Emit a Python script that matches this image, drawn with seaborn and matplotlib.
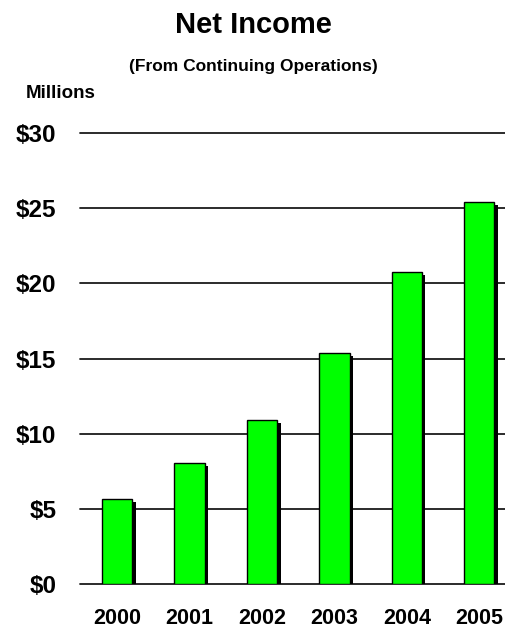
import matplotlib
matplotlib.use("Agg")
import matplotlib.pyplot as plt
import matplotlib.patheffects as pe
import seaborn as sns
import pandas as pd

# Net income from continuing operations, millions of dollars
years = ["2000", "2001", "2002", "2003", "2004", "2005"]
net_income = [5.65, 8.05, 10.9, 15.35, 20.75, 25.4]
y_ticks = [0, 5, 10, 15, 20, 25, 30]
y_tick_labels = ["$0", "$5", "$10", "$15", "$20", "$25", "$30"]

df = pd.DataFrame({"year": years, "income": net_income})

sns.set_theme(style="white")
plt.rcParams["font.family"] = ["Liberation Sans", "DejaVu Sans"]
plt.rcParams["font.weight"] = "bold"
plt.rcParams["text.color"] = "black"
plt.rcParams["xtick.color"] = "black"
plt.rcParams["ytick.color"] = "black"

fig = plt.figure(figsize=(5.06, 6.30), dpi=100)
ax = fig.add_axes([80 / 506, 1 - 584 / 630, 426 / 506, (584 - 133) / 630])

# horizontal rules behind the bars
for t in y_ticks:
    ax.axhline(t, color="#1a1a1a", lw=1.3, zorder=0, clip_on=False)

sns.barplot(data=df, x="year", y="income", color="#00ff00", width=0.42,
            saturation=1, edgecolor="black", linewidth=1.0, ax=ax, zorder=3)

# solid drop shadow on each bar
for bar in ax.patches:
    bar.set_path_effects([
        pe.SimplePatchShadow(offset=(2.4, -2.2), shadow_rgbFace="black", alpha=1.0),
        pe.Normal(),
    ])

ax.set_xlim(-0.514, 5.37)
ax.set_ylim(0, 30)
ax.set_yticks(y_ticks)
ax.set_yticklabels(y_tick_labels, fontsize=17.5, fontweight="bold", color="black")
ax.set_xticks(range(len(years)))
ax.set_xticklabels(years, fontsize=15.5, fontweight="bold", color="black")
ax.tick_params(axis="y", length=0, pad=17)
ax.tick_params(axis="x", length=0, pad=17)
ax.set_xlabel("")
ax.set_ylabel("")
for s in ax.spines.values():
    s.set_visible(False)

fig.text(0.5, 1 - 25 / 630, "Net Income", ha="center", va="center",
         fontsize=21, fontweight="bold", color="black")
fig.text(0.5, 1 - 67 / 630, "(From Continuing Operations)", ha="center",
         va="center", fontsize=12.5, fontweight="bold", color="black")
fig.text(26 / 506, 1 - 93 / 630, "Millions", ha="left", va="center",
         fontsize=13.5, fontweight="bold", color="black")

fig.savefig("out.png", dpi=100, facecolor="white")
